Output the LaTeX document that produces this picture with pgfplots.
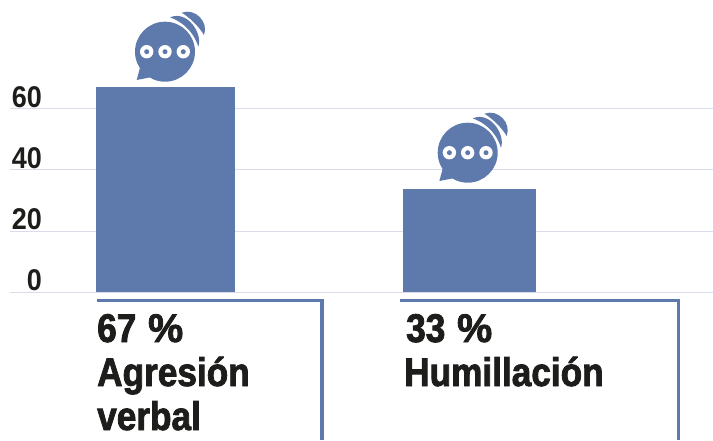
\documentclass[border=0pt]{standalone}
\usepackage{pgfplots}
\pgfplotsset{compat=1.18}
\usepackage{fontspec}
\setmainfont{Liberation Sans}
\newfontfamily\tickfont[FakeStretch=0.9]{Liberation Sans Bold}
\newfontfamily\labfont[FakeStretch=0.88,FakeBold=2]{Liberation Sans Bold}
\definecolor{barblue}{HTML}{5E79AC}
\definecolor{gridc}{HTML}{D8DCEC}
\definecolor{ink}{HTML}{1D1D1B}
\newcommand{\speechicon}[2]{%
  \begin{scope}[shift={(#1,#2)}, x=1pt, y=1pt]
    \fill[barblue] (0,0) circle (30);
    \fill[barblue] (-25,-16) -- (-28.3,-28.3) -- (-14,-25.5) -- cycle;
    \foreach \d in {-18.3,0,18.3}{
      \fill[white] (\d,0) circle (6.7);
      \fill[barblue] (\d,0) circle (2.5);
    }
    \fill[barblue] (5,34.3) .. controls (15,31) and (28,22) .. (33.3,5)
      .. controls (38,18.5) and (22,42) .. (5,34.3) -- cycle;
    \fill[barblue] (16.7,39) .. controls (24.5,34.5) and (34.5,24.5) .. (39,16.7)
      .. controls (44,30) and (30,44) .. (16.7,39) -- cycle;
  \end{scope}}
\newcommand{\pct}{\hspace{2pt}\scalebox{1.12}[1]{\%}}
\begin{document}
\begin{tikzpicture}[x=1pt,y=1pt]
\useasboundingbox (0,0) rectangle (713,440);
\begin{axis}[
  at={(10pt,147.7pt)}, anchor=south west,
  scale only axis, width=703pt, height=292.3pt,
  xmin=10, xmax=713, ymin=0, ymax=95.52,
  axis line style={draw=none},
  xtick=\empty,
  ytick={0,20,40,60},
  ymajorgrids, grid style={gridc,line width=0.9pt},
  major tick length=0pt,
  yticklabel style={font=\tickfont\fontsize{30}{30}\selectfont, text=ink, anchor=east, xshift=35.5pt, yshift=12pt},
  /pgf/number format/assume math mode=true,
  clip=false,
]
\addplot[ybar, bar width=139pt, bar shift=0pt, fill=barblue, draw=none] coordinates {(165.5,67)};
\addplot[ybar, bar width=133pt, bar shift=0pt, fill=barblue, draw=none] coordinates {(469.5,33.8)};
\end{axis}
\speechicon{165}{388.3}
\speechicon{467.7}{287.3}
\draw[barblue, line width=3pt] (97,139.5) -- (324,139.5);
\draw[barblue, line width=4pt] (322,141) -- (322,0);
\draw[barblue, line width=3pt] (400,139.5) -- (680,139.5);
\draw[barblue, line width=3.4pt] (678.5,141) -- (678.5,0);
\begin{scope}[every node/.style={anchor=base west, inner sep=0pt, text=ink, font=\labfont\fontsize{40}{40}\selectfont}]
\node at (97,98) {67 \pct};
\node at (97,54) {Agresión};
\node at (97,10) {verbal};
\node at (406,98) {33 \pct};
\node at (404,54) {Humillación};
\end{scope}
\end{tikzpicture}
\end{document}
